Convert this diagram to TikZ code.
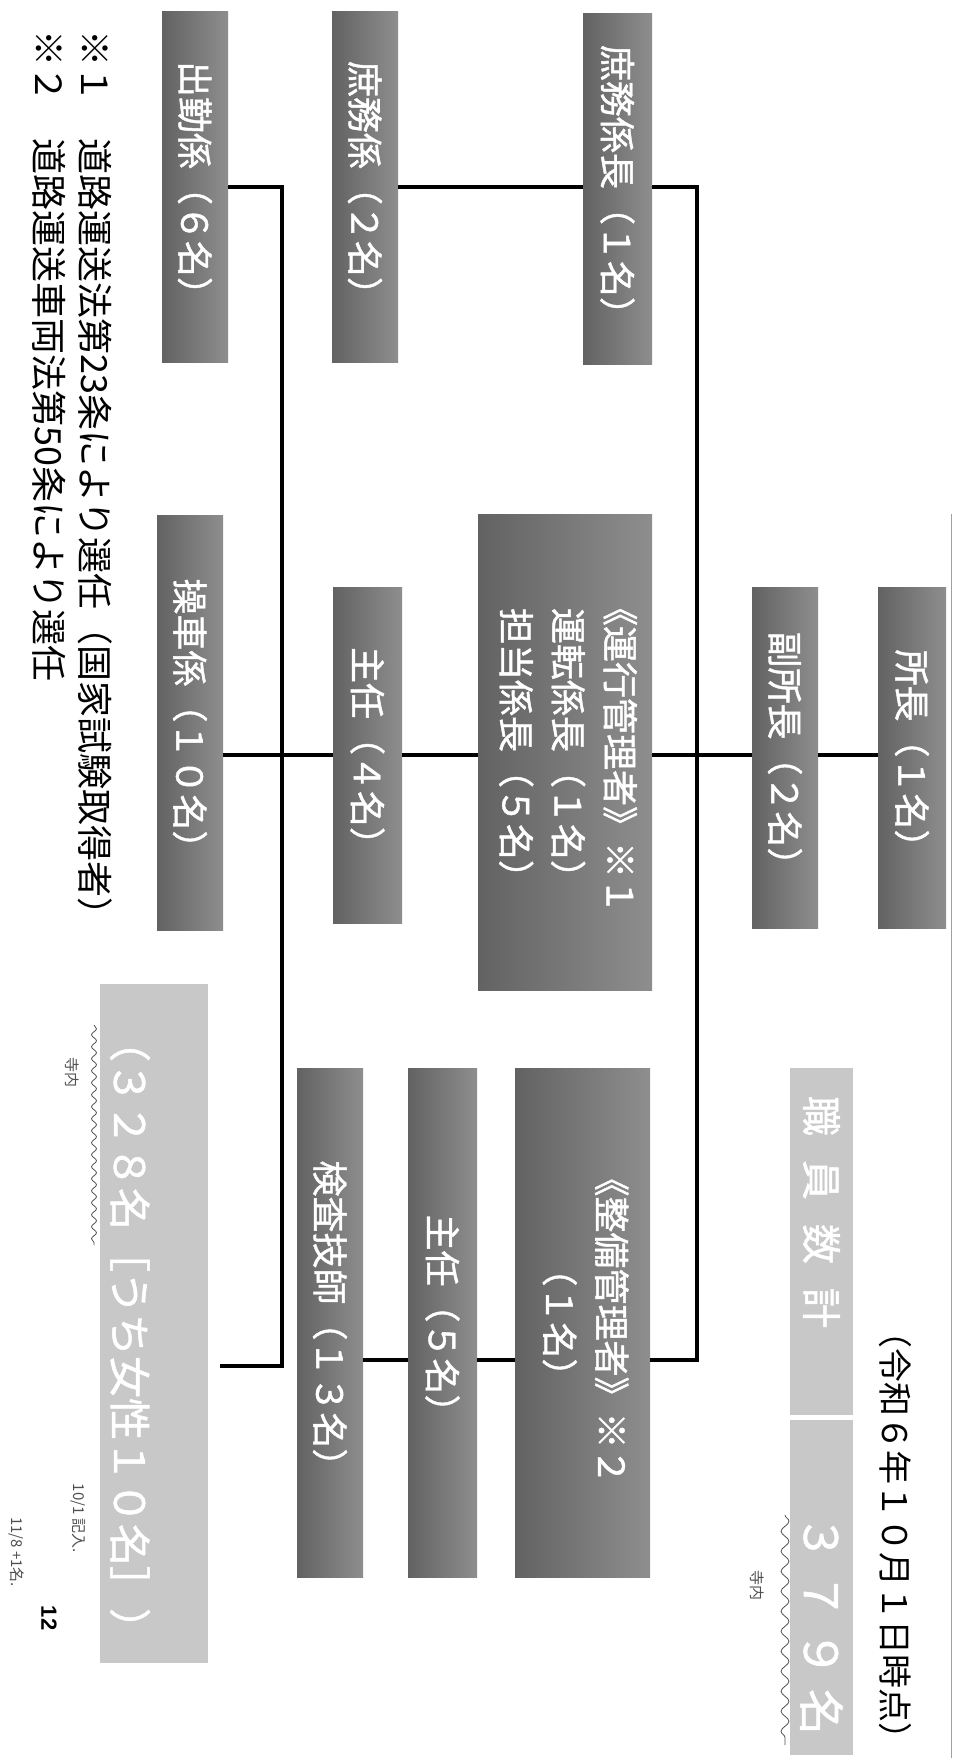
\documentclass[tikz,border=0pt]{standalone}
\usepackage{fontspec}
\usepackage{graphicx}
\newfontfamily\jp{Noto Sans CJK JP}
\newfontfamily\jpb[FakeBold=1.2]{Noto Sans CJK JP}
\newfontfamily\lat{Liberation Sans}
\usetikzlibrary{decorations.pathmorphing}
\definecolor{boxdark}{HTML}{626262}
\definecolor{boxmid}{HTML}{8E8E8E}
\definecolor{boxlight}{HTML}{C8C8C8}
\definecolor{pen}{HTML}{505050}
\definecolor{edge}{HTML}{A0A0A0}
\tikzset{
  darkbox/.style={draw=none, left color=boxdark, right color=boxmid, inner sep=0pt, text=white, font=\jpb\fontsize{36}{52}\selectfont},
  lightbox/.style={draw=none, fill=boxlight, inner sep=0pt, text=white},
  conn/.style={line width=4.5pt, black, line join=miter},
  notetext/.style={font=\jp\fontsize{36}{44}\selectfont, inner sep=0pt, text=black},
  handtext/.style={font=\jp\fontsize{15}{18}\selectfont, inner sep=0pt, text=pen},
  wavy/.style={pen, line width=0.8pt, decorate, decoration={snake, amplitude=2.5pt, segment length=12pt}}
}
\begin{document}
\begin{tikzpicture}[x=1pt,y=-1pt]
\fill[white] (0,0) rectangle (955,1758);
\useasboundingbox (0,0) rectangle (955,1758);

% row coordinates
\coordinate (toprow) at (0,187);
\coordinate (midrow) at (0,755);
\coordinate (lowrow) at (0,1360);

% top row
\node[darkbox, minimum width=66pt, minimum height=350pt] (shukkin) at (195,187) {\rotatebox{-90}{出勤係（６名）}};
\node[darkbox, minimum width=66pt, minimum height=350pt] (shomu) at (365,187) {\rotatebox{-90}{庶務係（２名）}};
\node[darkbox, minimum width=69pt, minimum height=350pt] (shomucho) at (617.5,189) {\rotatebox{-90}{庶務係長（１名）}};

% middle row
\node[darkbox, minimum width=66pt, minimum height=415pt] (sousha) at (190,722.5) {\rotatebox{-90}{操車係（１０名）}};
\node[darkbox, minimum width=69pt, minimum height=336pt] (shunin4) at (367.5,755) {\rotatebox{-90}{主任（４名）}};
\node[darkbox, minimum width=174pt, minimum height=476pt] (unko) at (565,752) {\rotatebox{-90}{\begin{tabular}{@{}c@{}}《運行管理者》※１\\運転係長（１名）\\担当係長（５名）\end{tabular}}};
\node[darkbox, minimum width=66pt, minimum height=341pt] (fuku) at (785,757.5) {\rotatebox{-90}{副所長（２名）}};
\node[darkbox, minimum width=68pt, minimum height=341pt] (shocho) at (912,757.5) {\rotatebox{-90}{所長（１名）}};

% bottom row
\node[darkbox, minimum width=66pt, minimum height=509pt] (kensa) at (330,1322.5) {\rotatebox{-90}{検査技師（１３名）}};
\node[darkbox, minimum width=69pt, minimum height=509pt] (shunin5) at (442.5,1322.5) {\rotatebox{-90}{主任（５名）}};
\node[darkbox, minimum width=135pt, minimum height=509pt] (seibi) at (582.5,1322.5) {\rotatebox{-90}{\begin{tabular}{@{}c@{}}《整備管理者》※２\\（１名）\end{tabular}}};

% totals
\node[lightbox, minimum width=63pt, minimum height=347pt] (shokuin) at (821.5,1241.5) {};
\node[font=\jpb\fontsize{40}{48}\selectfont, text=white, inner sep=0pt] (shokuintxt) at (821.5,1212) {\rotatebox{-90}{職\hspace{24pt}員\hspace{24pt}数\hspace{24pt}計}};
\node[lightbox, minimum width=63pt, minimum height=335pt] (total) at (821.5,1587.5) {};
\node[font=\jpb\fontsize{46}{54}\selectfont, text=white, inner sep=0pt] (totaltxt) at (821.5,1625) {\rotatebox{-90}{３\hspace{12pt}７\hspace{12pt}９\hspace{12pt}名}};
\node[lightbox, minimum width=108pt, minimum height=679pt] (sub) at (154,1323.5) {};
\node[font=\jpb\fontsize{42}{50}\selectfont, text=white, inner sep=0pt] (subtxt) at (130,1335) {\rotatebox{-90}{（３２８名［うち女性１０名］）}};

% date
\node[notetext, font=\jp\fontsize{34}{40}\selectfont] (date) at (895,1535) {\rotatebox{-90}{（令和６年１０月１日時点）}};

% notes
\node[notetext, anchor=north] (note1) at (95,30) {\rotatebox{-90}{※１　道路運送法第23条により選任（国家試験取得者）}};
\node[notetext, anchor=north] (note2) at (49,30) {\rotatebox{-90}{※２　道路運送車両法第50条により選任}};

% page number and handwriting
\node[font=\lat\bfseries\fontsize{22}{26}\selectfont, inner sep=0pt] (pagenum) at (49,1618) {\rotatebox{-90}{12}};
\node[handtext] (hand1) at (78,1518) {\rotatebox{-90}{10/1 記入.}};
\node[handtext] (hand2) at (16,1552) {\rotatebox{-90}{11/8 +1名.}};
\node[handtext] (hand3) at (72,1072) {\rotatebox{-90}{寺内}};
\node[handtext] (hand4) at (757,1585) {\rotatebox{-90}{寺内}};

\coordinate (wl1) at (94,1025);
\coordinate (wl2) at (94,1245);
\coordinate (wr1) at (785,1515);
\coordinate (wr2) at (785,1745);
\draw[wavy] (wl1) -- (wl2);
\draw[wavy, decoration={snake, amplitude=4pt, segment length=20pt}] (wr1) -- (wr2);

% page edge
\coordinate (pe1) at (951,514);
\coordinate (pe2) at (951,1758);
\draw[edge, line width=1pt] (pe1) -- (pe2);

% connectors
\coordinate (lsTop) at (282,187);
\coordinate (lsBot) at (282,1366);
\coordinate (lsEnd) at (220,1366);
\coordinate (rsTop) at (697,187);
\coordinate (rsBot) at (697,1360);

\draw[conn] (shukkin.east |- toprow) -- (lsTop) -- (lsBot) -- (lsEnd);
\draw[conn] (shomu.east |- toprow) -- (shomucho.west |- toprow);
\draw[conn] (shomucho.east |- toprow) -- (rsTop) -- (rsBot) -- (seibi.east |- lowrow);
\draw[conn] (sousha.east |- midrow) -- (shunin4.west |- midrow);
\draw[conn] (shunin4.east |- midrow) -- (unko.west |- midrow);
\draw[conn] (unko.east |- midrow) -- (fuku.west |- midrow);
\draw[conn] (fuku.east |- midrow) -- (shocho.west |- midrow);
\draw[conn] (seibi.west |- lowrow) -- (shunin5.east |- lowrow);
\draw[conn] (shunin5.west |- lowrow) -- (kensa.east |- lowrow);
\end{tikzpicture}
\end{document}
